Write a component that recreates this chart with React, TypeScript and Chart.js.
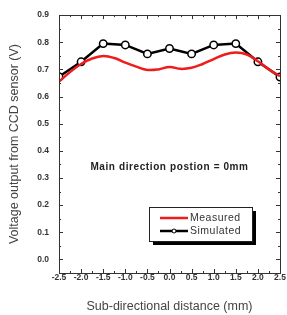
import React, { useEffect, useRef } from "react";
import { Chart, registerables } from "chart.js";

Chart.register(...registerables);

const simX = [-2.5, -2.0, -1.5, -1.0, -0.5, 0.0, 0.5, 1.0, 1.5, 2.0, 2.5];
const simY = [0.673, 0.728, 0.795, 0.79, 0.757, 0.777, 0.757, 0.79, 0.795, 0.728, 0.672];

const measX = [-2.5, -2.25, -2.0, -1.75, -1.5, -1.25, -1.0, -0.75, -0.5, -0.25, 0, 0.25, 0.5, 0.75, 1.0, 1.25, 1.5, 1.75, 2.0, 2.25, 2.5];
const measY = [0.655, 0.69, 0.72, 0.74, 0.749, 0.742, 0.725, 0.71, 0.698, 0.7, 0.709, 0.702, 0.706, 0.72, 0.738, 0.755, 0.762, 0.755, 0.73, 0.7, 0.675];

const xTicks = [-2.5, -2.0, -1.5, -1.0, -0.5, 0.0, 0.5, 1.0, 1.5, 2.0, 2.5];
const yTicks = [0.0, 0.1, 0.2, 0.3, 0.4, 0.5, 0.6, 0.7, 0.8, 0.9];

const seriesNames = ["Measured", "Simulated"];
const annotationText = "Main direction postion = 0mm";
const xTitle = "Sub-directional distance (mm)";
const yTitle = "Voltage output from CCD sensor (V)";

const FONT = "'Liberation Sans', Arial, sans-serif";

const frameTicksPlugin = {
  id: "frameTicks",
  afterDraw(chart: any) {
    const { ctx, chartArea: a, scales } = chart;
    const xs = scales.x;
    const ys = scales.y;
    ctx.save();
    ctx.strokeStyle = "#333";
    ctx.lineWidth = 1;
    ctx.strokeRect(Math.round(a.left) + 0.5, Math.round(a.top) + 0.5, Math.round(a.right - a.left), Math.round(a.bottom - a.top));
    ctx.beginPath();
    for (let v = -2.5; v <= 2.5001; v += 0.25) {
      const major = Math.abs(v * 2 - Math.round(v * 2)) < 1e-6;
      const len = major ? 4 : 2;
      const px = Math.round(xs.getPixelForValue(v)) + 0.5;
      ctx.moveTo(px, a.bottom);
      ctx.lineTo(px, a.bottom - len);
      ctx.moveTo(px, a.top);
      ctx.lineTo(px, a.top + len);
    }
    for (let v = 0; v <= 0.9001; v += 0.05) {
      const major = Math.abs(v * 10 - Math.round(v * 10)) < 1e-6;
      const len = major ? 4 : 2;
      const py = Math.round(ys.getPixelForValue(v)) + 0.5;
      ctx.moveTo(a.left, py);
      ctx.lineTo(a.left + len, py);
      ctx.moveTo(a.right, py);
      ctx.lineTo(a.right - len, py);
    }
    ctx.stroke();

    // annotation
    ctx.fillStyle = "#222";
    ctx.font = `bold 10px ${FONT}`;
    (ctx as any).letterSpacing = "0.6px";
    ctx.textAlign = "center";
    ctx.textBaseline = "middle";
    ctx.fillText(annotationText, xs.getPixelForValue(0), ys.getPixelForValue(0.338));

    // legend
    const lx = 149, ly = 207, lw = 103, lh = 34;
    ctx.fillStyle = "#000";
    ctx.fillRect(lx + 4, ly + 4, lw, lh);
    ctx.fillStyle = "#fff";
    ctx.fillRect(lx, ly, lw, lh);
    ctx.strokeStyle = "#222";
    ctx.lineWidth = 1;
    ctx.strokeRect(lx + 0.5, ly + 0.5, lw, lh);
    ctx.lineWidth = 2.5;
    ctx.strokeStyle = "#ee1c1c";
    ctx.beginPath();
    ctx.moveTo(160, 218);
    ctx.lineTo(188, 218);
    ctx.stroke();
    ctx.strokeStyle = "#000";
    ctx.beginPath();
    ctx.moveTo(160, 231);
    ctx.lineTo(188, 231);
    ctx.stroke();
    ctx.beginPath();
    ctx.arc(174, 231, 2, 0, Math.PI * 2);
    ctx.fillStyle = "#fff";
    ctx.fill();
    ctx.lineWidth = 1;
    ctx.stroke();
    ctx.fillStyle = "#333";
    ctx.font = `10.5px ${FONT}`;
    (ctx as any).letterSpacing = "0.5px";
    ctx.textAlign = "left";
    ctx.fillText(seriesNames[0], 190, 218);
    ctx.fillText(seriesNames[1], 190, 231);
    ctx.restore();
  },
};

export default function App() {
  const ref = useRef<HTMLCanvasElement>(null);
  useEffect(() => {
    document.body.style.margin = "0";
    const canvas = ref.current!;
    const chart = new Chart(canvas, {
      type: "line",
      data: {
        datasets: [
          {
            label: seriesNames[0],
            data: measX.map((x, i) => ({ x, y: measY[i] })),
            borderColor: "#ee1c1c",
            borderWidth: 2.5,
            pointRadius: 0,
            tension: 0.4,
            fill: false,
          },
          {
            label: seriesNames[1],
            data: simX.map((x, i) => ({ x, y: simY[i] })),
            borderColor: "#000",
            borderWidth: 2.5,
            pointRadius: 3.7,
            pointBackgroundColor: "#fff",
            pointBorderColor: "#000",
            pointBorderWidth: 1.5,
            tension: 0,
            fill: false,
          },
        ],
      },
      options: {
        responsive: false,
        animation: false,
        layout: { padding: { top: 11, right: 7, left: 0, bottom: 0 } },
        plugins: { legend: { display: false }, tooltip: { enabled: false } },
        scales: {
          x: {
            type: "linear",
            min: -2.5,
            max: 2.5,
            grid: { display: false, drawTicks: false, tickLength: 0 },
            border: { display: false },
            afterBuildTicks: (s: any) => {
              s.ticks = xTicks.map((v) => ({ value: v }));
            },
            afterFit: (s: any) => {
              s.height = 42;
            },
            ticks: {
              padding: 0,
              autoSkip: false,
              maxRotation: 0,
              color: "#333",
              font: { family: FONT, size: 8.5, weight: "bold" },
              callback: (v: any) => Number(v).toFixed(1),
            },
            title: {
              display: true,
              text: xTitle,
              color: "#444",
              padding: { top: 0, bottom: 1 },
              font: { family: FONT, size: 12.5 },
            },
          },
          y: {
            type: "linear",
            min: -0.05,
            max: 0.9,
            grid: { display: false, drawTicks: false, tickLength: 0 },
            border: { display: false },
            afterBuildTicks: (s: any) => {
              s.ticks = yTicks.map((v) => ({ value: v }));
            },
            afterFit: (s: any) => {
              s.width = 59;
            },
            ticks: {
              padding: 10,
              color: "#333",
              font: { family: FONT, size: 8.5, weight: "bold" },
              callback: (v: any) => Number(v).toFixed(1),
            },
            title: {
              display: true,
              text: yTitle,
              color: "#444",
              padding: { top: 7, bottom: 0 },
              font: { family: FONT, size: 12.5 },
            },
          },
        },
      },
      plugins: [frameTicksPlugin],
    });
    return () => chart.destroy();
  }, []);
  return <canvas ref={ref} width={287} height={315} style={{ display: "block" }} />;
}
